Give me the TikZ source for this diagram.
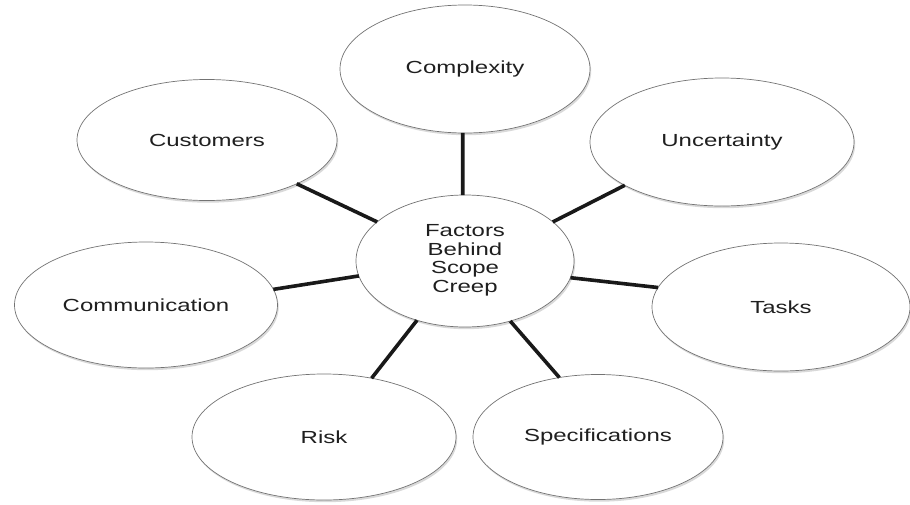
\documentclass[tikz,border=0pt]{standalone}
\usepackage{fontspec}
\usepackage{graphicx}
\setmainfont{Liberation Sans}
\usetikzlibrary{shapes.geometric,shadows}

% horizontally widened lettering
\newcommand{\widetxt}[1]{\scalebox{1.37}[1]{#1}}

\tikzset{
  factor/.style={ellipse, draw=black!55, line width=0.7pt, fill=white,
    inner sep=0pt, outer sep=0pt, text=black!88,
    font=\fontsize{17.5}{18.5}\selectfont,
    drop shadow={shadow xshift=1.2pt, shadow yshift=-2.2pt, opacity=0.3}},
  spoke/.style={line width=3.6pt, draw=black!90}
}

\begin{document}
\begin{tikzpicture}[x=1pt, y=-1pt]
  \useasboundingbox (0,0) rectangle (910,504);

  % surrounding factors
  \node[factor, minimum width=250pt, minimum height=128pt] (cx)  at (465,69)  {\widetxt{Complexity}};
  \node[factor, minimum width=260pt, minimum height=121pt] (cu)  at (207,140) {\widetxt{Customers}};
  \node[factor, minimum width=264pt, minimum height=128pt] (un)  at (722,142) {\widetxt{Uncertainty}};
  \node[factor, minimum width=263pt, minimum height=126pt] (co)  at (146,305) {\widetxt{Communication}};
  \node[factor, minimum width=258pt, minimum height=128pt] (ta)  at (781,307) {\widetxt{Tasks}};
  \node[factor, minimum width=264pt, minimum height=126pt] (ri)  at (324,437) {\widetxt{Risk}};
  \node[factor, minimum width=250pt, minimum height=125pt] (sp)  at (598,437) {\widetxt{Specifications}};

  % hub
  \node[factor, minimum width=218pt, minimum height=132pt] (hub) at (465,261)
    {\widetxt{\begin{tabular}{@{}c@{}}Factors\\Behind\\Scope\\Creep\end{tabular}}};

  % spokes
  \draw[spoke] (hub.92)    -- (cx.268);
  \draw[spoke] (hub.156.4) -- (cu.334);
  \draw[spoke] (hub.24.6)  -- (un.204.9);
  \draw[spoke] (hub.188.4) -- (co.7.6);
  \draw[spoke] (hub.351.5) -- (ta.171);
  \draw[spoke] (hub.231.2) -- (ri.51.8);
  \draw[spoke] (hub.307.6) -- (sp.123.9);
\end{tikzpicture}
\end{document}
